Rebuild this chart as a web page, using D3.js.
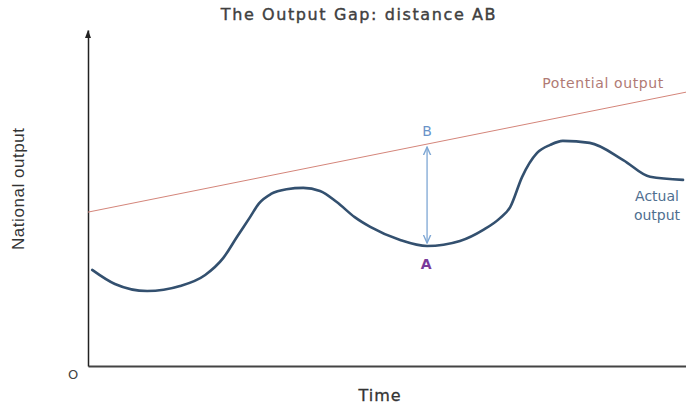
<!DOCTYPE html>
<html>
<head>
<meta charset="utf-8">
<script src="https://cdn.jsdelivr.net/npm/d3@7"></script>
<style>
  body { margin: 0; background: #fff; }
  svg { display: block; }
</style>
</head>
<body>
<div id="chart"></div>
<script>
// time (0-100) and output (0-100)
const timePoints = [0.7, 4.5, 9.9, 15.4, 19.6, 22.6, 24.9, 27.1, 28.6, 30.6, 33.2, 36.0, 38.8, 41.6, 44.6, 47.2, 52.2, 56.7, 62.2, 66.1, 68.9, 70.6, 72.6, 75.1, 77.3, 79.4, 83.9, 89.5, 94.0, 99.5];
const actualOutput = [28.6, 24.4, 22.3, 23.8, 27.1, 32.1, 38.4, 44.3, 48.4, 51.2, 52.6, 53.0, 52.1, 48.8, 44.3, 41.4, 37.5, 35.7, 37.2, 40.5, 44.0, 47.3, 56.3, 63.4, 65.8, 67.0, 66.4, 61.3, 56.3, 55.4];
const potentialTime = [0, 100];
const potentialOutput = [45.8, 81.5];
const gapTime = 56.7; // where A and B sit

const width = 686, height = 408;
const margin = { top: 30, right: 0, bottom: 42, left: 88 };

const svg = d3.select('#chart').append('svg')
  .attr('width', width)
  .attr('height', height)
  .style('font-family', '"DejaVu Sans", Verdana, sans-serif');

const x = d3.scaleLinear().domain([0, 100]).range([margin.left, width - margin.right]);
const y = d3.scaleLinear().domain([0, 100]).range([height - margin.bottom, margin.top]);

// axes without ticks
svg.append('g')
  .attr('transform', `translate(0,${y(0)})`)
  .call(d3.axisBottom(x).tickValues([]).tickSizeOuter(0))
  .select('.domain').attr('stroke', '#444').attr('stroke-width', 2);

svg.append('g')
  .attr('transform', `translate(${x(0)},0)`)
  .call(d3.axisLeft(y).tickValues([]).tickSizeOuter(0))
  .select('.domain').attr('stroke', '#222').attr('stroke-width', 1.5);

// arrowhead on top of y axis
svg.append('path')
  .attr('d', `M${x(0) - 3},${y(100) + 8}L${x(0)},${y(100)}L${x(0) + 3},${y(100) + 8}Z`)
  .attr('fill', '#222');

// potential output
const potential = potentialTime.map((t, i) => ({ t, v: potentialOutput[i] }));
svg.append('path')
  .datum(potential)
  .attr('fill', 'none')
  .attr('stroke', '#d4857a')
  .attr('stroke-width', 1)
  .attr('d', d3.line().x(d => x(d.t)).y(d => y(d.v)));

// actual output
const actual = timePoints.map((t, i) => ({ t, v: actualOutput[i] }));
svg.append('path')
  .datum(actual)
  .attr('fill', 'none')
  .attr('stroke', '#33506f')
  .attr('stroke-width', 2.6)
  .attr('stroke-linecap', 'round')
  .attr('d', d3.line().x(d => x(d.t)).y(d => y(d.v)).curve(d3.curveMonotoneX));

// gap arrow A-B
const potAt = t => potentialOutput[0] + (potentialOutput[1] - potentialOutput[0]) * (t - potentialTime[0]) / (potentialTime[1] - potentialTime[0]);
const bVal = potAt(gapTime);
const aVal = actualOutput[timePoints.indexOf(gapTime)];

svg.append('defs').append('marker')
  .attr('id', 'head')
  .attr('viewBox', '0 0 10 10')
  .attr('refX', 9).attr('refY', 5)
  .attr('markerWidth', 7).attr('markerHeight', 7)
  .attr('orient', 'auto-start-reverse')
  .append('path')
  .attr('d', 'M0,1L9,5L0,9')
  .attr('fill', 'none')
  .attr('stroke', '#7ea7d4')
  .attr('stroke-width', 1.5);

svg.append('line')
  .attr('x1', x(gapTime)).attr('x2', x(gapTime))
  .attr('y1', y(bVal) + 3).attr('y2', y(aVal) - 3)
  .attr('stroke', '#7ea7d4')
  .attr('stroke-width', 1.3)
  .attr('marker-start', 'url(#head)')
  .attr('marker-end', 'url(#head)');

svg.append('text')
  .attr('x', x(gapTime)).attr('y', y(bVal) - 8)
  .attr('text-anchor', 'middle')
  .attr('fill', '#6a93c8')
  .style('font-size', '14px')
  .text('B');

svg.append('text')
  .attr('x', x(gapTime) - 1).attr('y', y(aVal) + 23)
  .attr('text-anchor', 'middle')
  .attr('fill', '#7a3a9a')
  .style('font-size', '14px')
  .style('font-weight', 'bold')
  .text('A');

// labels
svg.append('text')
  .attr('x', 359).attr('y', 20)
  .attr('text-anchor', 'middle')
  .attr('fill', '#404040')
  .attr('stroke', '#404040')
  .attr('stroke-width', 0.4)
  .style('font-size', '16px')
  .style('letter-spacing', '1.6px')
  .text('The Output Gap: distance AB');

svg.append('text')
  .attr('x', 603).attr('y', 88)
  .attr('text-anchor', 'middle')
  .attr('fill', '#b07a74')
  .style('font-size', '14px')
  .style('letter-spacing', '0.6px')
  .text('Potential output');

svg.append('text')
  .attr('x', 657).attr('y', 201)
  .attr('text-anchor', 'middle')
  .attr('fill', '#4f6f90')
  .style('font-size', '14px')
  .text('Actual');

svg.append('text')
  .attr('x', 657).attr('y', 220)
  .attr('text-anchor', 'middle')
  .attr('fill', '#4f6f90')
  .style('font-size', '14px')
  .text('output');

svg.append('text')
  .attr('x', 380).attr('y', 401)
  .attr('text-anchor', 'middle')
  .attr('fill', '#333')
  .attr('stroke', '#333')
  .attr('stroke-width', 0.3)
  .style('font-size', '16px')
  .style('letter-spacing', '1px')
  .text('Time');

svg.append('text')
  .attr('x', 73).attr('y', 379)
  .attr('text-anchor', 'middle')
  .attr('fill', '#444')
  .style('font-size', '13px')
  .text('O');

svg.append('text')
  .attr('transform', 'translate(24,189) rotate(-90)')
  .attr('text-anchor', 'middle')
  .attr('fill', '#333')
  .style('font-family', '"Liberation Sans", Arial, sans-serif')
  .style('font-size', '17px')
  .attr('textLength', 122)
  .text('National output');
</script>
</body>
</html>
